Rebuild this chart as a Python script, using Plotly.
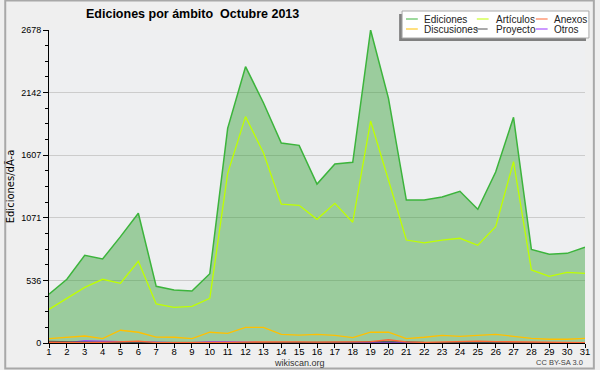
import plotly.graph_objects as go

days = list(range(1, 32))
day_labels = [str(d) for d in days]

ediciones = [417, 545, 750, 719, 910, 1110, 485, 453, 445, 593, 1837, 2364, 2056, 1711, 1691,
             1360, 1532, 1546, 2678, 2093, 1223, 1223, 1249, 1298, 1144, 1463, 1931, 801, 759, 767, 819]
articulos = [288, 382, 476, 545, 511, 699, 334, 305, 314, 382, 1452, 1937, 1628, 1189, 1178,
             1058, 1195, 1033, 1899, 1395, 881, 856, 881, 896, 836, 995, 1551, 625, 571, 605, 596]
discusiones = [37, 51, 60, 37, 109, 92, 51, 49, 37, 92, 83, 134, 134, 74, 68,
               74, 66, 46, 92, 92, 37, 49, 66, 57, 66, 74, 57, 40, 32, 32, 40]
anexos = [5, 3, 4, 6, 8, 16, 4, 3, 3, 4, 6, 8, 10, 12, 10,
          8, 9, 6, 12, 28, 10, 5, 8, 10, 16, 12, 10, 5, 3, 3, 3]
proyecto = [14, 14, 8, 6, 5, 6, 4, 3, 3, 4, 5, 4, 4, 4, 4,
            4, 4, 8, 12, 14, 10, 6, 4, 4, 6, 4, 4, 3, 3, 3, 3]
otros = [3, 4, 18, 12, 12, 10, 4, 3, 3, 10, 10, 5, 4, 4, 3,
         3, 3, 3, 3, 4, 3, 3, 3, 3, 3, 3, 3, 3, 2, 2, 2]

y_ticks = [0, 536, 1071, 1607, 2142, 2678]
y_max = 2678

colors = {"Ediciones": "#3cb43c", "Artículos": "#bfff00", "Anexos": "#ff6633",
          "Discusiones": "#ffc000", "Proyecto": "#555555", "Otros": "#9933ff"}

W, H = 600, 370
ML, MR, MT, MB = 45, 10, 30, 27
PW, PH = W - ML - MR, H - MT - MB


def px(x):
    return (x - ML) / PW


def py(y):
    return (H - MB - y) / PH


fig = go.Figure()
fig.add_trace(go.Scatter(x=days, y=ediciones, mode="lines", name="Ediciones",
                         line=dict(color=colors["Ediciones"], width=1.5),
                         fill="tozeroy", fillcolor="rgba(50,160,50,0.44)", showlegend=False))
for name, vals in [("Otros", otros), ("Proyecto", proyecto), ("Anexos", anexos),
                   ("Discusiones", discusiones), ("Artículos", articulos)]:
    fig.add_trace(go.Scatter(x=days, y=vals, mode="lines", name=name,
                             line=dict(color=colors[name], width=1.3), showlegend=False))

minor_vals = []
for a, b in zip(y_ticks[:-1], y_ticks[1:]):
    step = (b - a) / 4
    minor_vals += [a + step * k for k in (1, 2, 3)]

shapes = []
annotations = []

# outer border
shapes.append(dict(type="rect", xref="paper", yref="paper", x0=px(0.5), x1=px(599), y0=py(0.5), y1=py(368.5),
                   line=dict(color="#a8a8a8", width=2), fillcolor="rgba(0,0,0,0)", layer="below"))

# legend box with shadow
shapes.append(dict(type="rect", xref="paper", yref="paper", x0=px(401), x1=px(591), y0=py(14), y1=py(41),
                   line=dict(width=0), fillcolor="#808080"))
shapes.append(dict(type="rect", xref="paper", yref="paper", x0=px(404), x1=px(594), y0=py(11), y1=py(38),
                   line=dict(color="#aaaaaa", width=1), fillcolor="white"))

legend_layout = [("Ediciones", 408, 420, 424, 19), ("Artículos", 480, 492, 497, 19), ("Anexos", 540, 552, 556, 19),
                 ("Discusiones", 408, 420, 424, 29), ("Proyecto", 479, 491, 497, 29), ("Otros", 540, 552, 556, 29)]
for name, lx0, lx1, tx, ly in legend_layout:
    shapes.append(dict(type="line", xref="paper", yref="paper", x0=px(lx0), x1=px(lx1), y0=py(ly), y1=py(ly),
                       line=dict(color=colors[name], width=1)))
    annotations.append(dict(text=name, xref="paper", yref="paper", x=px(tx), y=py(ly), xanchor="left",
                            yanchor="middle", showarrow=False, font=dict(size=10, color="#222222")))

annotations.append(dict(text="<b>Ediciones por ámbito  Octubre 2013</b>", xref="paper", yref="paper",
                        x=px(191), y=py(14), xanchor="center", yanchor="middle", showarrow=False,
                        font=dict(size=12.5, color="black")))
annotations.append(dict(text="wikiscan.org", xref="paper", yref="paper", x=px(300), y=py(362.5),
                        xanchor="center", yanchor="middle", showarrow=False, font=dict(size=9, color="#333333")))
annotations.append(dict(text="CC BY-SA 3.0", xref="paper", yref="paper", x=px(590), y=py(362.5),
                        xanchor="right", yanchor="middle", showarrow=False, font=dict(size=7.5, color="#444444")))

fig.update_layout(
    width=W, height=H,
    margin=dict(l=ML, r=MR, t=MT, b=MB),
    paper_bgcolor="#efefef", plot_bgcolor="#eeeff1",
    font=dict(family="Liberation Sans, Arial, sans-serif", size=10, color="black"),
    showlegend=False,
    shapes=shapes, annotations=annotations,
    xaxis=dict(range=[1, 31], tickvals=days, ticktext=day_labels, ticks="outside", ticklen=4,
               tickcolor="black", showline=True, linecolor="black", linewidth=1, showgrid=False,
               zeroline=False, tickfont=dict(size=9.5), ticklabelstandoff=-4, fixedrange=True),
    yaxis=dict(range=[0, y_max], tickvals=y_ticks, ticktext=[str(v) for v in y_ticks], ticks="outside",
               ticklen=5, tickcolor="black", showline=True, linecolor="black", linewidth=1,
               gridcolor="#cccccc", zeroline=False, tickfont=dict(size=9), fixedrange=True,
               minor=dict(tickvals=minor_vals, ticks="outside", ticklen=3, tickcolor="black", showgrid=False),
               title=dict(text="Ediciones/dÃ-a", font=dict(size=10, family="DejaVu Sans"), standoff=4)),
)

fig.write_html("out.html", config={"displayModeBar": False},
               post_script="document.body.style.margin='0';document.body.style.overflow='hidden';")
